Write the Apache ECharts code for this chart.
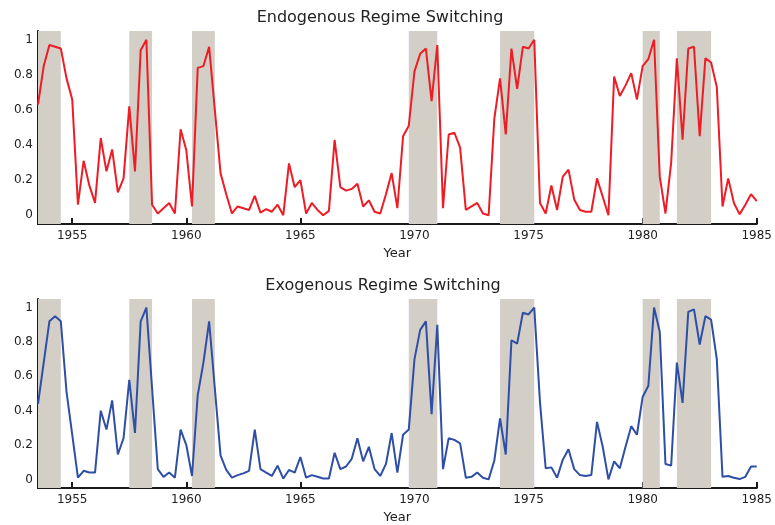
<!DOCTYPE html>
<html>
<head>
<meta charset="utf-8">
<script src="https://cdn.jsdelivr.net/npm/echarts@6/dist/echarts.min.js"></script>
<style>
  html, body { margin: 0; padding: 0; background: #fff; }
  #chart { width: 775px; height: 525px; }
</style>
</head>
<body>
<div id="chart"></div>
<script>
// Quarterly observations, first quarter at 1953.5, one value per quarter
const firstQuarter = 1953.5;

// Recession periods (start, end) in fractional years
const recessions = [
  [1953.5, 1954.5], [1957.5, 1958.5], [1960.25, 1961.25], [1969.75, 1971.0],
  [1973.75, 1975.25], [1980.0, 1980.75], [1981.5, 1983.0]
];

// Probability of the low-growth regime, endogenous switching model
const endogenous = [
  0.63, 0.85, 0.97, 0.96, 0.95, 0.78, 0.66, 0.06, 0.31, 0.17,
  0.07, 0.44, 0.25, 0.375, 0.13, 0.21, 0.62, 0.25, 0.94, 1.0,
  0.06, 0.01, 0.04, 0.07, 0.01, 0.49, 0.37, 0.05, 0.84, 0.85,
  0.96, 0.60, 0.24, 0.12, 0.01, 0.05, 0.04, 0.03, 0.11, 0.015,
  0.035, 0.02, 0.06, 0.0, 0.295, 0.16, 0.20, 0.01, 0.07, 0.03,
  0.0, 0.025, 0.43, 0.16, 0.14, 0.15, 0.18, 0.05, 0.085, 0.02,
  0.01, 0.12, 0.24, 0.04, 0.45, 0.51, 0.82, 0.92, 0.95, 0.65,
  0.97, 0.04, 0.46, 0.47, 0.385, 0.03, 0.05, 0.07, 0.01, 0.0,
  0.55, 0.78, 0.46, 0.95, 0.72, 0.96, 0.95, 1.0, 0.07, 0.01,
  0.17, 0.03, 0.22, 0.26, 0.09, 0.03, 0.02, 0.02, 0.21, 0.105,
  0.0, 0.79, 0.68, 0.74, 0.81, 0.66, 0.85, 0.89, 1.0, 0.22,
  0.01, 0.30, 0.895, 0.43, 0.95, 0.96, 0.45, 0.895, 0.87, 0.73,
  0.05, 0.21, 0.07, 0.005, 0.06, 0.12, 0.08
];

// Probability of the low-growth regime, exogenous switching model
const exogenous = [
  0.44, 0.68, 0.92, 0.95, 0.92, 0.51, 0.26, 0.01, 0.05, 0.04,
  0.04, 0.40, 0.29, 0.46, 0.145, 0.24, 0.58, 0.27, 0.92, 1.0,
  0.53, 0.06, 0.015, 0.04, 0.01, 0.29, 0.20, 0.02, 0.49, 0.68,
  0.92, 0.53, 0.14, 0.055, 0.01, 0.025, 0.035, 0.05, 0.29, 0.06,
  0.04, 0.02, 0.08, 0.005, 0.055, 0.04, 0.13, 0.01, 0.025, 0.015,
  0.005, 0.005, 0.155, 0.06, 0.075, 0.12, 0.24, 0.105, 0.19, 0.06,
  0.02, 0.09, 0.27, 0.04, 0.26, 0.29, 0.70, 0.87, 0.92, 0.38,
  0.90, 0.06, 0.24, 0.23, 0.21, 0.01, 0.015, 0.04, 0.01, 0.0,
  0.11, 0.355, 0.145, 0.81, 0.79, 0.97, 0.96, 1.0, 0.45, 0.065,
  0.07, 0.01, 0.115, 0.175, 0.06, 0.025, 0.02, 0.025, 0.335, 0.19,
  0.0, 0.105, 0.065, 0.19, 0.31, 0.26, 0.48, 0.545, 1.0, 0.86,
  0.09, 0.08, 0.68, 0.445, 0.975, 0.99, 0.785, 0.95, 0.93, 0.70,
  0.015, 0.02, 0.01, 0.002, 0.015, 0.075, 0.075
];

// Axis tick labels
const yearTicks = [1955, 1960, 1965, 1970, 1975, 1980, 1985];
const probTicks = [0, 0.2, 0.4, 0.6, 0.8, 1];

const panelTitles = ['Endogenous Regime Switching', 'Exogenous Regime Switching'];

const toPairs = vals => vals.map((v, k) => [firstQuarter + k * 0.25, v]);

const FONT = 'DejaVu Sans';
const TEXT = '#222';
const AXIS = '#1a1a1a';
const BAND = '#d3cfc7';

function xAxisFor(gridIndex) {
  return {
    type: 'value', gridIndex, min: 1953.5, max: 1985,
    name: 'Year', nameLocation: 'middle', nameGap: 23,
    nameTextStyle: { fontFamily: FONT, fontSize: 13, color: TEXT },
    axisLine: { onZero: false, lineStyle: { color: AXIS, width: 2 } },
    axisTick: { inside: true, length: 6, customValues: yearTicks, lineStyle: { color: AXIS, width: 2 } },
    axisLabel: {
      customValues: yearTicks, fontFamily: FONT, fontSize: 12, color: TEXT, margin: 6,
      formatter: v => String(Math.round(v))
    },
    splitLine: { show: false }
  };
}

function yAxisFor(gridIndex) {
  return {
    type: 'value', gridIndex, min: -0.05, max: 1.05,
    axisLine: { show: true, lineStyle: { color: AXIS, width: 2 } },
    axisTick: { show: true, inside: true, length: 6, customValues: probTicks, lineStyle: { color: AXIS, width: 2 } },
    axisLabel: {
      customValues: probTicks, fontFamily: FONT, fontSize: 12, color: TEXT, margin: 5,
      formatter: v => String(Math.round(v * 10) / 10)
    },
    splitLine: { show: false }
  };
}

function bandSeries(idx) {
  return {
    type: 'line', xAxisIndex: idx, yAxisIndex: idx, data: [], z: 1, silent: true,
    markArea: {
      silent: true,
      itemStyle: { color: BAND, opacity: 1 },
      data: recessions.map(r => [{ xAxis: r[0] }, { xAxis: r[1] }])
    }
  };
}

function probSeries(idx, vals, color) {
  return {
    type: 'line', xAxisIndex: idx, yAxisIndex: idx, z: 3,
    data: toPairs(vals), showSymbol: false, symbol: 'none',
    lineStyle: { color, width: 2 }
  };
}

const chart = echarts.init(document.getElementById('chart'), null, { renderer: 'canvas' });
chart.setOption({
  animation: false,
  backgroundColor: '#fff',
  title: [
    { text: panelTitles[0], left: 375, top: 5, textAlign: 'center',
      textStyle: { fontFamily: FONT, fontSize: 16, fontWeight: 'normal', color: TEXT } },
    { text: panelTitles[1], left: 378, top: 273, textAlign: 'center',
      textStyle: { fontFamily: FONT, fontSize: 16, fontWeight: 'normal', color: TEXT } }
  ],
  grid: [
    { left: 38, top: 31, width: 720, height: 193 },
    { left: 38, top: 299, width: 720, height: 192 }
  ],
  xAxis: [xAxisFor(0), xAxisFor(1)],
  yAxis: [yAxisFor(0), yAxisFor(1)],
  series: [
    bandSeries(0),
    bandSeries(1),
    probSeries(0, endogenous, '#ee1c25'),
    probSeries(1, exogenous, '#2f4fa6')
  ]
});
</script>
</body>
</html>
